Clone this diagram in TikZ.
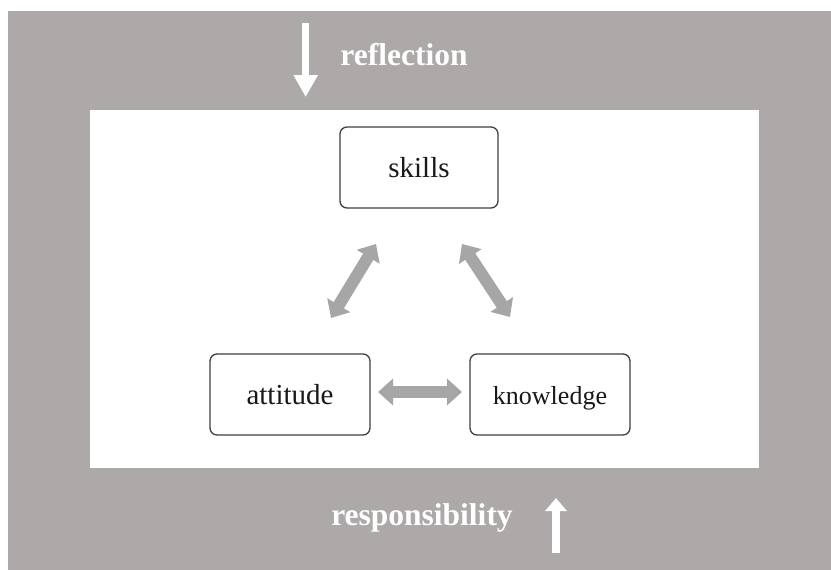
\documentclass[tikz,border=0pt]{standalone}
\usepackage{fontspec}
\setmainfont{Liberation Serif}
\usetikzlibrary{arrows.meta}
\definecolor{frameGray}{RGB}{173,169,168}
\definecolor{linkGray}{RGB}{166,166,166}
\definecolor{boxEdge}{RGB}{64,64,64}
\definecolor{inkBlack}{RGB}{25,25,25}
\tikzset{
  conceptbox/.style={draw=boxEdge, line width=1.3pt, fill=white, rounded corners=7pt,
    inner sep=0pt, text=inkBlack, text depth=0pt},
  fatlink/.style={draw=linkGray, line width=12pt,
    {Triangle[length=15pt,width=26pt]}-{Triangle[length=15pt,width=26pt]}},
  framelabel/.style={text=white, font=\fontsize{31.5}{34}\selectfont\bfseries, inner sep=0pt, anchor=base},
}
\begin{document}
\begin{tikzpicture}[x=1pt,y=-1pt]
  \useasboundingbox (0,0) rectangle (831,570);
  % outer frame and inner field
  \fill[frameGray] (8,11) rectangle (831,570);
  \fill[white] (90,110) rectangle (759,468);

  % the three concepts
  \node[conceptbox, minimum width=158pt, minimum height=81pt, text height=20pt,
        font=\fontsize{29}{31}\selectfont] (skills) at (419,167.5) {skills};
  \node[conceptbox, minimum width=160pt, minimum height=81pt, text height=20pt,
        font=\fontsize{29}{31}\selectfont] (attitude) at (290,394.5) {attitude};
  \node[conceptbox, minimum width=160pt, minimum height=81pt, text height=20pt,
        font=\fontsize{26}{28}\selectfont] (knowledge) at (550,394.5) {knowledge};

  % two-way links between the concepts
  \coordinate (sa1) at (376,244);
  \coordinate (sa2) at (331,318);
  \coordinate (sk1) at (462,244);
  \coordinate (sk2) at (510,317);
  \coordinate (ak1) at (378,392);
  \coordinate (ak2) at (462,392);
  \draw[fatlink] (sa1) -- (sa2);
  \draw[fatlink] (sk1) -- (sk2);
  \draw[fatlink] (ak1) -- (ak2);

  % reflection coming in from the top
  \coordinate (refTop) at (305.7,23);
  \coordinate (refTip) at (305.7,97);
  \draw[white, line width=6.7pt, -{Triangle[length=22pt,width=23pt]}] (refTop) -- (refTip);
  \node[framelabel] (reflection) at (404,65) {reflection};

  % responsibility going out at the bottom
  \coordinate (resBot) at (556,553);
  \coordinate (resTip) at (556,498);
  \draw[white, line width=8pt, -{Triangle[length=13pt,width=21pt]}] (resBot) -- (resTip);
  \node[framelabel] (responsibility) at (422,525) {responsibility};
\end{tikzpicture}
\end{document}
